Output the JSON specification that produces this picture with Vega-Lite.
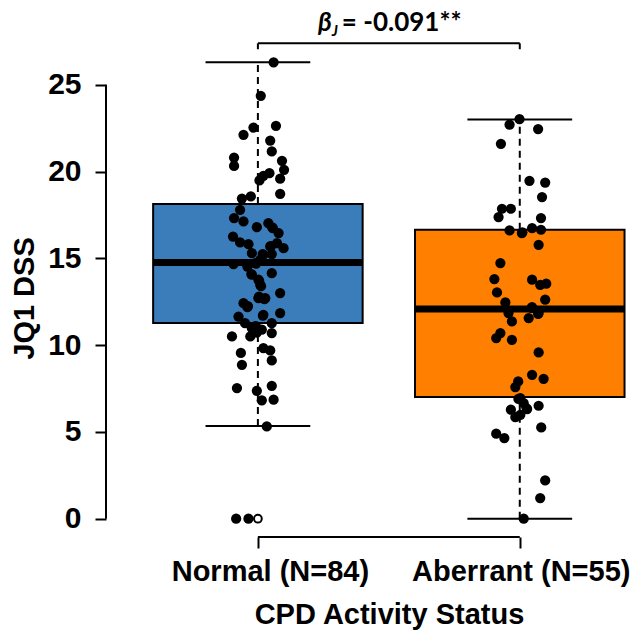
{
  "$schema": "https://vega.github.io/schema/vega-lite/v6.json",
  "width": 529,
  "height": 493,
  "autosize": "none",
  "padding": {"left": 106, "top": 44, "right": 1, "bottom": 98},
  "background": "white",
  "config": {"view": {"stroke": null}, "font": "Liberation Sans"},
  "datasets": {
    "points": [
      {"group": "Normal", "x": 1.060, "value": 26.3},
      {"group": "Normal", "x": 1.011, "value": 24.37},
      {"group": "Normal", "x": 1.069, "value": 22.64},
      {"group": "Normal", "x": 0.983, "value": 22.54},
      {"group": "Normal", "x": 0.945, "value": 22.12},
      {"group": "Normal", "x": 1.047, "value": 21.79},
      {"group": "Normal", "x": 1.053, "value": 21.16},
      {"group": "Normal", "x": 0.909, "value": 20.81},
      {"group": "Normal", "x": 0.909, "value": 20.33},
      {"group": "Normal", "x": 1.092, "value": 20.62},
      {"group": "Normal", "x": 1.100, "value": 20.10},
      {"group": "Normal", "x": 1.044, "value": 19.91},
      {"group": "Normal", "x": 1.021, "value": 19.76},
      {"group": "Normal", "x": 1.006, "value": 19.49},
      {"group": "Normal", "x": 1.085, "value": 19.59},
      {"group": "Normal", "x": 1.085, "value": 18.72},
      {"group": "Normal", "x": 0.973, "value": 18.57},
      {"group": "Normal", "x": 0.939, "value": 18.45},
      {"group": "Normal", "x": 0.932, "value": 17.80},
      {"group": "Normal", "x": 0.909, "value": 17.32},
      {"group": "Normal", "x": 0.945, "value": 17.13},
      {"group": "Normal", "x": 0.996, "value": 16.80},
      {"group": "Normal", "x": 1.040, "value": 17.03},
      {"group": "Normal", "x": 1.057, "value": 16.74},
      {"group": "Normal", "x": 1.079, "value": 16.46},
      {"group": "Normal", "x": 0.905, "value": 16.26},
      {"group": "Normal", "x": 0.932, "value": 15.92},
      {"group": "Normal", "x": 0.964, "value": 15.82},
      {"group": "Normal", "x": 1.073, "value": 15.88},
      {"group": "Normal", "x": 1.098, "value": 15.59},
      {"group": "Normal", "x": 1.047, "value": 15.69},
      {"group": "Normal", "x": 0.977, "value": 15.31},
      {"group": "Normal", "x": 1.021, "value": 15.21},
      {"group": "Normal", "x": 1.053, "value": 15.25},
      {"group": "Normal", "x": 0.907, "value": 14.67},
      {"group": "Normal", "x": 0.960, "value": 14.53},
      {"group": "Normal", "x": 0.990, "value": 14.73},
      {"group": "Normal", "x": 1.009, "value": 14.92},
      {"group": "Normal", "x": 0.977, "value": 14.06},
      {"group": "Normal", "x": 1.053, "value": 14.15},
      {"group": "Normal", "x": 1.002, "value": 13.77},
      {"group": "Normal", "x": 1.009, "value": 13.48},
      {"group": "Normal", "x": 1.085, "value": 13.00},
      {"group": "Normal", "x": 1.002, "value": 12.71},
      {"group": "Normal", "x": 1.028, "value": 12.71},
      {"group": "Normal", "x": 0.945, "value": 12.42},
      {"group": "Normal", "x": 0.960, "value": 12.19},
      {"group": "Normal", "x": 0.926, "value": 11.65},
      {"group": "Normal", "x": 1.021, "value": 11.75},
      {"group": "Normal", "x": 1.085, "value": 11.85},
      {"group": "Normal", "x": 0.951, "value": 11.27},
      {"group": "Normal", "x": 0.990, "value": 11.08},
      {"group": "Normal", "x": 1.053, "value": 11.27},
      {"group": "Normal", "x": 1.015, "value": 10.89},
      {"group": "Normal", "x": 0.977, "value": 10.98},
      {"group": "Normal", "x": 0.901, "value": 10.50},
      {"group": "Normal", "x": 0.971, "value": 10.50},
      {"group": "Normal", "x": 0.996, "value": 10.73},
      {"group": "Normal", "x": 1.053, "value": 10.70},
      {"group": "Normal", "x": 0.935, "value": 9.55},
      {"group": "Normal", "x": 1.021, "value": 9.83},
      {"group": "Normal", "x": 1.047, "value": 9.70},
      {"group": "Normal", "x": 0.939, "value": 8.87},
      {"group": "Normal", "x": 1.053, "value": 9.12},
      {"group": "Normal", "x": 0.920, "value": 7.53},
      {"group": "Normal", "x": 0.996, "value": 7.37},
      {"group": "Normal", "x": 1.053, "value": 7.66},
      {"group": "Normal", "x": 1.015, "value": 6.82},
      {"group": "Normal", "x": 1.060, "value": 6.86},
      {"group": "Normal", "x": 1.034, "value": 5.32},
      {"group": "Normal", "x": 0.917, "value": 0.0},
      {"group": "Normal", "x": 0.964, "value": 0.0},
      {"group": "Normal", "x": 1.005, "value": 13.70},
      {"group": "Normal", "x": 1.012, "value": 13.40},
      {"group": "Normal", "x": 1.004, "value": 12.80},
      {"group": "Normal", "x": 1.025, "value": 12.65},
      {"group": "Normal", "x": 0.993, "value": 14.70},
      {"group": "Normal", "x": 1.018, "value": 15.25},
      {"group": "Normal", "x": 0.975, "value": 14.10},
      {"group": "Normal", "x": 1.050, "value": 15.70},
      {"group": "Normal", "x": 0.962, "value": 12.25},
      {"group": "Normal", "x": 1.019, "value": 11.70},
      {"group": "Normal", "x": 0.992, "value": 11.10},
      {"group": "Normal", "x": 1.055, "value": 16.78},
      {"group": "Aberrant", "x": 1.999, "value": 23.02},
      {"group": "Aberrant", "x": 1.961, "value": 22.70},
      {"group": "Aberrant", "x": 2.070, "value": 22.45},
      {"group": "Aberrant", "x": 1.928, "value": 21.60},
      {"group": "Aberrant", "x": 2.037, "value": 19.47},
      {"group": "Aberrant", "x": 2.097, "value": 19.37},
      {"group": "Aberrant", "x": 2.085, "value": 18.53},
      {"group": "Aberrant", "x": 1.932, "value": 17.86},
      {"group": "Aberrant", "x": 1.966, "value": 17.86},
      {"group": "Aberrant", "x": 1.919, "value": 17.38},
      {"group": "Aberrant", "x": 2.081, "value": 17.32},
      {"group": "Aberrant", "x": 1.961, "value": 16.61},
      {"group": "Aberrant", "x": 2.008, "value": 16.46},
      {"group": "Aberrant", "x": 2.047, "value": 16.74},
      {"group": "Aberrant", "x": 2.081, "value": 16.65},
      {"group": "Aberrant", "x": 2.072, "value": 15.78},
      {"group": "Aberrant", "x": 1.926, "value": 14.73},
      {"group": "Aberrant", "x": 1.903, "value": 13.81},
      {"group": "Aberrant", "x": 2.047, "value": 13.77},
      {"group": "Aberrant", "x": 2.078, "value": 13.48},
      {"group": "Aberrant", "x": 2.101, "value": 13.54},
      {"group": "Aberrant", "x": 1.913, "value": 13.04},
      {"group": "Aberrant", "x": 1.945, "value": 12.46},
      {"group": "Aberrant", "x": 2.097, "value": 12.62},
      {"group": "Aberrant", "x": 2.047, "value": 12.19},
      {"group": "Aberrant", "x": 1.957, "value": 11.85},
      {"group": "Aberrant", "x": 2.072, "value": 11.85},
      {"group": "Aberrant", "x": 1.970, "value": 11.37},
      {"group": "Aberrant", "x": 2.034, "value": 11.56},
      {"group": "Aberrant", "x": 1.926, "value": 10.70},
      {"group": "Aberrant", "x": 1.910, "value": 10.41},
      {"group": "Aberrant", "x": 1.970, "value": 10.31},
      {"group": "Aberrant", "x": 2.072, "value": 9.58},
      {"group": "Aberrant", "x": 2.047, "value": 8.29},
      {"group": "Aberrant", "x": 2.091, "value": 8.06},
      {"group": "Aberrant", "x": 1.994, "value": 7.91},
      {"group": "Aberrant", "x": 1.983, "value": 7.59},
      {"group": "Aberrant", "x": 2.002, "value": 6.95},
      {"group": "Aberrant", "x": 2.015, "value": 6.66},
      {"group": "Aberrant", "x": 1.966, "value": 6.28},
      {"group": "Aberrant", "x": 2.028, "value": 6.32},
      {"group": "Aberrant", "x": 2.072, "value": 6.51},
      {"group": "Aberrant", "x": 1.983, "value": 5.86},
      {"group": "Aberrant", "x": 2.002, "value": 5.99},
      {"group": "Aberrant", "x": 2.082, "value": 5.26},
      {"group": "Aberrant", "x": 1.910, "value": 4.90},
      {"group": "Aberrant", "x": 1.941, "value": 4.65},
      {"group": "Aberrant", "x": 2.097, "value": 2.21},
      {"group": "Aberrant", "x": 2.078, "value": 1.19},
      {"group": "Aberrant", "x": 2.015, "value": 0.0},
      {"group": "Aberrant", "x": 2.045, "value": 12.15},
      {"group": "Aberrant", "x": 2.070, "value": 11.80},
      {"group": "Aberrant", "x": 2.010, "value": 16.50},
      {"group": "Aberrant", "x": 1.995, "value": 6.90},
      {"group": "Aberrant", "x": 2.026, "value": 6.36}
    ],
    "stats": [
      {"group": "Normal", "pos": 1, "q1": 11.28, "med": 14.77, "q3": 18.13, "lo": 5.35, "hi": 26.3, "lo_pos": 0.6, "hi_pos": 1.4, "cap_lo": 0.8, "cap_hi": 1.2},
      {"group": "Aberrant", "pos": 2, "q1": 7.01, "med": 12.08, "q3": 16.65, "lo": 0.0, "hi": 23.0, "lo_pos": 1.6, "hi_pos": 2.4, "cap_lo": 1.8, "cap_hi": 2.2}
    ],
    "outliers": [
      {"group": "Normal", "pos": 1, "value": 0.0}
    ],
    "one": [{}],
    "brackets": [{"pos": 1}, {"pos": 2}]
  },
  "layer": [
    {
      "data": {"name": "stats"},
      "mark": {"type": "rect", "stroke": "black", "strokeWidth": 2},
      "encoding": {
        "x": {"field": "lo_pos", "type": "quantitative", "scale": {"domain": [0.42, 2.44], "nice": false, "zero": false},
          "axis": {"values": [1, 2], "domain": false, "grid": false, "tickSize": 11, "tickWidth": 2, "tickColor": "black",
            "labelExpr": "datum.value == 1 ? 'Normal (N=84)' : 'Aberrant (N=55)'",
            "labelFont": "Liberation Sans", "labelFontSize": 29, "labelFontWeight": "bold", "labelColor": "black", "labelPadding": 9, "labelFlush": false, "labelOverlap": false, "labelLimit": 400,
            "labelOffset": {"condition": {"test": "datum.value == 1", "value": 12}, "value": 1},
            "title": "CPD Activity Status", "titleFont": "Liberation Sans", "titleFontSize": 29, "titleFontWeight": "bold", "titleColor": "black", "titlePadding": 14, "titleLimit": 600, "titleX": 283, "titleAnchor": "start", "titleAlign": "center"}},
        "x2": {"field": "hi_pos"},
        "y": {"field": "q1", "type": "quantitative", "scale": {"domain": [-1.052, 27.352], "nice": false, "zero": false},
          "axis": {"values": [0, 5, 10, 15, 20, 25], "domain": false, "grid": false, "tickSize": 11, "tickWidth": 2, "tickColor": "black",
            "labelFont": "Liberation Sans", "labelFontSize": 30, "labelFontWeight": "bold", "labelColor": "black", "labelPadding": 14, "labelLimit": 200,
            "title": "JQ1 DSS", "titleFont": "Liberation Sans", "titleFontSize": 29, "titleFontWeight": "bold", "titleColor": "black", "titlePadding": 8, "titleY": 254, "titleAnchor": "start", "titleAlign": "center"}},
        "y2": {"field": "q3"},
        "color": {"field": "group", "type": "nominal", "scale": {"domain": ["Normal", "Aberrant"], "range": ["#3a7dba", "#ff8000"]}, "legend": null}
      }
    },
    {
      "data": {"name": "stats"},
      "mark": {"type": "rule", "stroke": "black", "strokeWidth": 7},
      "encoding": {
        "x": {"field": "lo_pos", "type": "quantitative"},
        "x2": {"field": "hi_pos"},
        "y": {"field": "med", "type": "quantitative"}
      }
    },
    {
      "data": {"name": "stats"},
      "mark": {"type": "rule", "stroke": "black", "strokeWidth": 2, "strokeDash": [7, 5]},
      "encoding": {
        "x": {"field": "pos", "type": "quantitative"},
        "y": {"field": "q3", "type": "quantitative"},
        "y2": {"field": "hi"}
      }
    },
    {
      "data": {"name": "stats"},
      "mark": {"type": "rule", "stroke": "black", "strokeWidth": 2, "strokeDash": [7, 5]},
      "encoding": {
        "x": {"field": "pos", "type": "quantitative"},
        "y": {"field": "lo", "type": "quantitative"},
        "y2": {"field": "q1"}
      }
    },
    {
      "data": {"name": "stats"},
      "mark": {"type": "rule", "stroke": "black", "strokeWidth": 2},
      "encoding": {
        "x": {"field": "cap_lo", "type": "quantitative"},
        "x2": {"field": "cap_hi"},
        "y": {"field": "hi", "type": "quantitative"}
      }
    },
    {
      "data": {"name": "stats"},
      "mark": {"type": "rule", "stroke": "black", "strokeWidth": 2},
      "encoding": {
        "x": {"field": "cap_lo", "type": "quantitative"},
        "x2": {"field": "cap_hi"},
        "y": {"field": "lo", "type": "quantitative"}
      }
    },
    {
      "data": {"name": "outliers"},
      "mark": {"type": "point", "shape": "circle", "filled": false, "stroke": "black", "strokeWidth": 2, "size": 60, "opacity": 1},
      "encoding": {
        "x": {"field": "pos", "type": "quantitative"},
        "y": {"field": "value", "type": "quantitative"}
      }
    },
    {
      "data": {"name": "points"},
      "mark": {"type": "circle", "color": "black", "size": 105, "opacity": 1},
      "encoding": {
        "x": {"field": "x", "type": "quantitative"},
        "y": {"field": "value", "type": "quantitative"}
      }
    },
    {
      "data": {"name": "one"},
      "mark": {"type": "rule", "stroke": "black", "strokeWidth": 2},
      "encoding": {
        "x": {"datum": 0.42, "type": "quantitative"},
        "y": {"datum": 0, "type": "quantitative"},
        "y2": {"datum": 25}
      }
    },
    {
      "data": {"name": "one"},
      "mark": {"type": "rule", "stroke": "black", "strokeWidth": 2},
      "encoding": {
        "x": {"datum": 1, "type": "quantitative"},
        "x2": {"datum": 2},
        "y": {"datum": -1.052, "type": "quantitative"}
      }
    },
    {
      "data": {"name": "one"},
      "mark": {"type": "rule", "stroke": "black", "strokeWidth": 2},
      "encoding": {
        "x": {"datum": 1, "type": "quantitative"},
        "x2": {"datum": 2},
        "y": {"datum": 27.39, "type": "quantitative"}
      }
    },
    {
      "data": {"name": "brackets"},
      "mark": {"type": "rule", "stroke": "black", "strokeWidth": 2},
      "encoding": {
        "x": {"field": "pos", "type": "quantitative"},
        "y": {"datum": 27.39, "type": "quantitative"},
        "y2": {"datum": 27.05}
      }
    },
    {
      "data": {"name": "one"},
      "mark": {"type": "text", "text": "= -0.091**", "font": "Lato", "fontSize": 26, "fontWeight": "bold", "align": "left", "baseline": "alphabetic", "dx": -47, "color": "black"},
      "encoding": {
        "x": {"datum": 1.5, "type": "quantitative"},
        "y": {"datum": 28.08, "type": "quantitative"}
      }
    },
    {
      "data": {"name": "one"},
      "mark": {"type": "text", "text": "β", "font": "Lato", "fontSize": 26, "fontWeight": "bold", "fontStyle": "italic", "align": "right", "baseline": "alphabetic", "dx": -57, "color": "black"},
      "encoding": {
        "x": {"datum": 1.5, "type": "quantitative"},
        "y": {"datum": 28.08, "type": "quantitative"}
      }
    },
    {
      "data": {"name": "one"},
      "mark": {"type": "text", "text": "J", "font": "Lato", "fontSize": 15, "fontWeight": "bold", "fontStyle": "italic", "align": "left", "baseline": "alphabetic", "dx": -57, "dy": 5, "color": "black"},
      "encoding": {
        "x": {"datum": 1.5, "type": "quantitative"},
        "y": {"datum": 28.08, "type": "quantitative"}
      }
    }
  ]
}
